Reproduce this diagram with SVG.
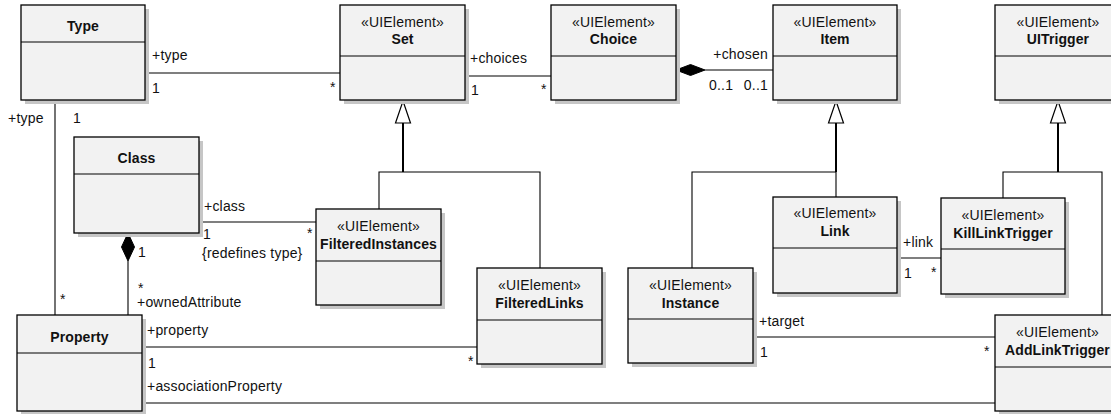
<svg xmlns="http://www.w3.org/2000/svg" width="1111" height="414" viewBox="0 0 1111 414">
  <style>
    .shadow { fill: #c6c6c6; stroke: none; }
    .box { fill: #f2f2f2; stroke: #000; stroke-width: 1.3; }
    .div { stroke: #000; stroke-width: 1.2; }
    text { font-family: "Liberation Sans", Arial, sans-serif; font-size: 14px; fill: #111; }
    .st { text-anchor: middle; letter-spacing: 0.2px; }
    .nm { text-anchor: middle; font-weight: bold; letter-spacing: 0.1px; }
    .lbl { letter-spacing: 0.2px; }
    .end { text-anchor: end; letter-spacing: 0.2px; }
    .edge { fill: none; stroke: #000; stroke-width: 1.1; }
    .stem { fill: none; stroke: #000; stroke-width: 2; }
    .gen { fill: #fff; stroke: #000; stroke-width: 1.2; }
    .comp { fill: #000; stroke: #000; stroke-width: 1; }
  </style>

  <!-- connectors -->
  <g id="connectors">
    <!-- Type - Set -->
    <line class="edge" x1="145" y1="73" x2="340" y2="73"/>
    <text class="lbl" x="152" y="60">+type</text>
    <text class="lbl" x="152" y="93">1</text>
    <text class="lbl" x="330" y="92">*</text>

    <!-- Set - Choice -->
    <line class="edge" x1="465" y1="76" x2="551" y2="76"/>
    <text class="lbl" x="470" y="63">+choices</text>
    <text class="lbl" x="471" y="95">1</text>
    <text class="lbl" x="541" y="94">*</text>

    <!-- Choice <>- Item -->
    <line class="edge" x1="705" y1="70" x2="773" y2="70"/>
    <polygon class="comp" points="676,70 690.5,64.5 705,70 690.5,75.5"/>
    <text class="end" x="768" y="59">+chosen</text>
    <text class="lbl" x="709" y="90">0..1</text>
    <text class="end" x="768" y="90">0..1</text>

    <!-- Type - Property -->
    <line class="edge" x1="55" y1="100" x2="55" y2="315"/>
    <text class="lbl" x="8" y="123">+type</text>
    <text class="lbl" x="73" y="123">1</text>
    <text class="lbl" x="60" y="304">*</text>

    <!-- Class <>- Property -->
    <line class="edge" x1="128" y1="261" x2="128" y2="315"/>
    <polygon class="comp" points="128,233 134.5,247 128,261 121.5,247"/>
    <text class="lbl" x="138" y="257">1</text>
    <text class="lbl" x="138" y="293" font-size="12">*</text>
    <text class="lbl" x="137" y="307">+ownedAttribute</text>

    <!-- Class - FilteredInstances -->
    <line class="edge" x1="199" y1="222" x2="316" y2="222"/>
    <text class="lbl" x="204" y="211">+class</text>
    <text class="lbl" x="203" y="239">1</text>
    <text class="lbl" x="202" y="258">{redefines type}</text>
    <text class="lbl" x="307" y="238">*</text>

    <!-- Set generalizations -->
    <polygon class="gen" points="403,101 410.5,123 395.5,123"/>
    <line class="stem" x1="403" y1="123" x2="403" y2="172"/>
    <polyline class="edge" points="379,209 379,172 540,172 540,268"/>

    <!-- Item generalizations -->
    <polygon class="gen" points="836,101 843.5,123 828.5,123"/>
    <line class="stem" x1="836" y1="123" x2="836" y2="172"/>
    <polyline class="edge" points="692,268 692,172 836,172 836,197"/>

    <!-- UITrigger generalizations -->
    <polygon class="gen" points="1058,101 1065.5,123 1050.5,123"/>
    <line class="stem" x1="1058" y1="123" x2="1058" y2="172"/>
    <polyline class="edge" points="1003,198 1003,172 1102,172 1102,315"/>

    <!-- Link - KillLinkTrigger -->
    <line class="edge" x1="897" y1="258" x2="941" y2="258"/>
    <text class="lbl" x="903" y="247">+link</text>
    <text class="lbl" x="904" y="278">1</text>
    <text class="lbl" x="931" y="277">*</text>

    <!-- Property - FilteredLinks -->
    <line class="edge" x1="142" y1="347" x2="477" y2="347"/>
    <text class="lbl" x="147" y="335">+property</text>
    <text class="lbl" x="148" y="368">1</text>
    <text class="lbl" x="468" y="366">*</text>

    <!-- Instance - AddLinkTrigger -->
    <line class="edge" x1="753" y1="337" x2="995" y2="337"/>
    <text class="lbl" x="759" y="326">+target</text>
    <text class="lbl" x="760" y="357">1</text>
    <text class="lbl" x="984" y="356">*</text>

    <!-- Property - AddLinkTrigger -->
    <line class="edge" x1="142" y1="403" x2="995" y2="403"/>
    <text class="lbl" x="147" y="391">+associationProperty</text>
  </g>

  <!-- classes -->
  <g id="type">
    <rect class="shadow" x="25" y="9" width="124" height="95"/>
    <rect class="box" x="21" y="5" width="124" height="95"/>
    <line class="div" x1="21" y1="42" x2="145" y2="42"/>
    <text class="nm" x="83" y="31">Type</text>
  </g>

  <g id="set">
    <rect class="shadow" x="344" y="9" width="125" height="95"/>
    <rect class="box" x="340" y="5" width="125" height="95"/>
    <line class="div" x1="340" y1="56" x2="465" y2="56"/>
    <text class="st" x="402.5" y="27">«UIElement»</text>
    <text class="nm" x="402.5" y="44">Set</text>
  </g>

  <g id="choice">
    <rect class="shadow" x="555" y="9" width="125" height="95"/>
    <rect class="box" x="551" y="5" width="125" height="95"/>
    <line class="div" x1="551" y1="56" x2="676" y2="56"/>
    <text class="st" x="613.5" y="27">«UIElement»</text>
    <text class="nm" x="613.5" y="44">Choice</text>
  </g>

  <g id="item">
    <rect class="shadow" x="777" y="9" width="124" height="95"/>
    <rect class="box" x="773" y="5" width="124" height="95"/>
    <line class="div" x1="773" y1="56" x2="897" y2="56"/>
    <text class="st" x="835" y="27">«UIElement»</text>
    <text class="nm" x="835" y="44">Item</text>
  </g>

  <g id="uitrigger">
    <rect class="shadow" x="999" y="9" width="125" height="95"/>
    <rect class="box" x="995" y="5" width="125" height="95"/>
    <line class="div" x1="995" y1="56" x2="1120" y2="56"/>
    <text class="st" x="1058" y="27">«UIElement»</text>
    <text class="nm" x="1058" y="44">UITrigger</text>
  </g>

  <g id="class">
    <rect class="shadow" x="78" y="141" width="125" height="96"/>
    <rect class="box" x="74" y="137" width="125" height="96"/>
    <line class="div" x1="74" y1="174" x2="199" y2="174"/>
    <text class="nm" x="136.5" y="163">Class</text>
  </g>

  <g id="filteredInstances">
    <rect class="shadow" x="320" y="213" width="125" height="96"/>
    <rect class="box" x="316" y="209" width="125" height="96"/>
    <line class="div" x1="316" y1="261" x2="441" y2="261"/>
    <text class="st" x="378.5" y="231">«UIElement»</text>
    <text class="nm" x="378.5" y="249">FilteredInstances</text>
  </g>

  <g id="filteredLinks">
    <rect class="shadow" x="481" y="272" width="125" height="96"/>
    <rect class="box" x="477" y="268" width="125" height="96"/>
    <line class="div" x1="477" y1="320" x2="602" y2="320"/>
    <text class="st" x="539.5" y="290">«UIElement»</text>
    <text class="nm" x="539.5" y="308">FilteredLinks</text>
  </g>

  <g id="instance">
    <rect class="shadow" x="632" y="272" width="125" height="95"/>
    <rect class="box" x="628" y="268" width="125" height="95"/>
    <line class="div" x1="628" y1="319" x2="753" y2="319"/>
    <text class="st" x="690.5" y="290">«UIElement»</text>
    <text class="nm" x="690.5" y="308">Instance</text>
  </g>

  <g id="link">
    <rect class="shadow" x="777" y="201" width="124" height="96"/>
    <rect class="box" x="773" y="197" width="124" height="96"/>
    <line class="div" x1="773" y1="248" x2="897" y2="248"/>
    <text class="st" x="835" y="218">«UIElement»</text>
    <text class="nm" x="835" y="236">Link</text>
  </g>

  <g id="killLinkTrigger">
    <rect class="shadow" x="945" y="202" width="124" height="96"/>
    <rect class="box" x="941" y="198" width="124" height="96"/>
    <line class="div" x1="941" y1="249" x2="1065" y2="249"/>
    <text class="st" x="1003" y="220">«UIElement»</text>
    <text class="nm" x="1003" y="238">KillLinkTrigger</text>
  </g>

  <g id="property">
    <rect class="shadow" x="21" y="319" width="125" height="96"/>
    <rect class="box" x="17" y="315" width="125" height="96"/>
    <line class="div" x1="17" y1="353" x2="142" y2="353"/>
    <text class="nm" x="79.5" y="342">Property</text>
  </g>

  <g id="addLinkTrigger">
    <rect class="shadow" x="999" y="319" width="125" height="96"/>
    <rect class="box" x="995" y="315" width="125" height="96"/>
    <line class="div" x1="995" y1="367" x2="1120" y2="367"/>
    <text class="st" x="1057.5" y="337">«UIElement»</text>
    <text class="nm" x="1057.5" y="355">AddLinkTrigger</text>
  </g>
</svg>
